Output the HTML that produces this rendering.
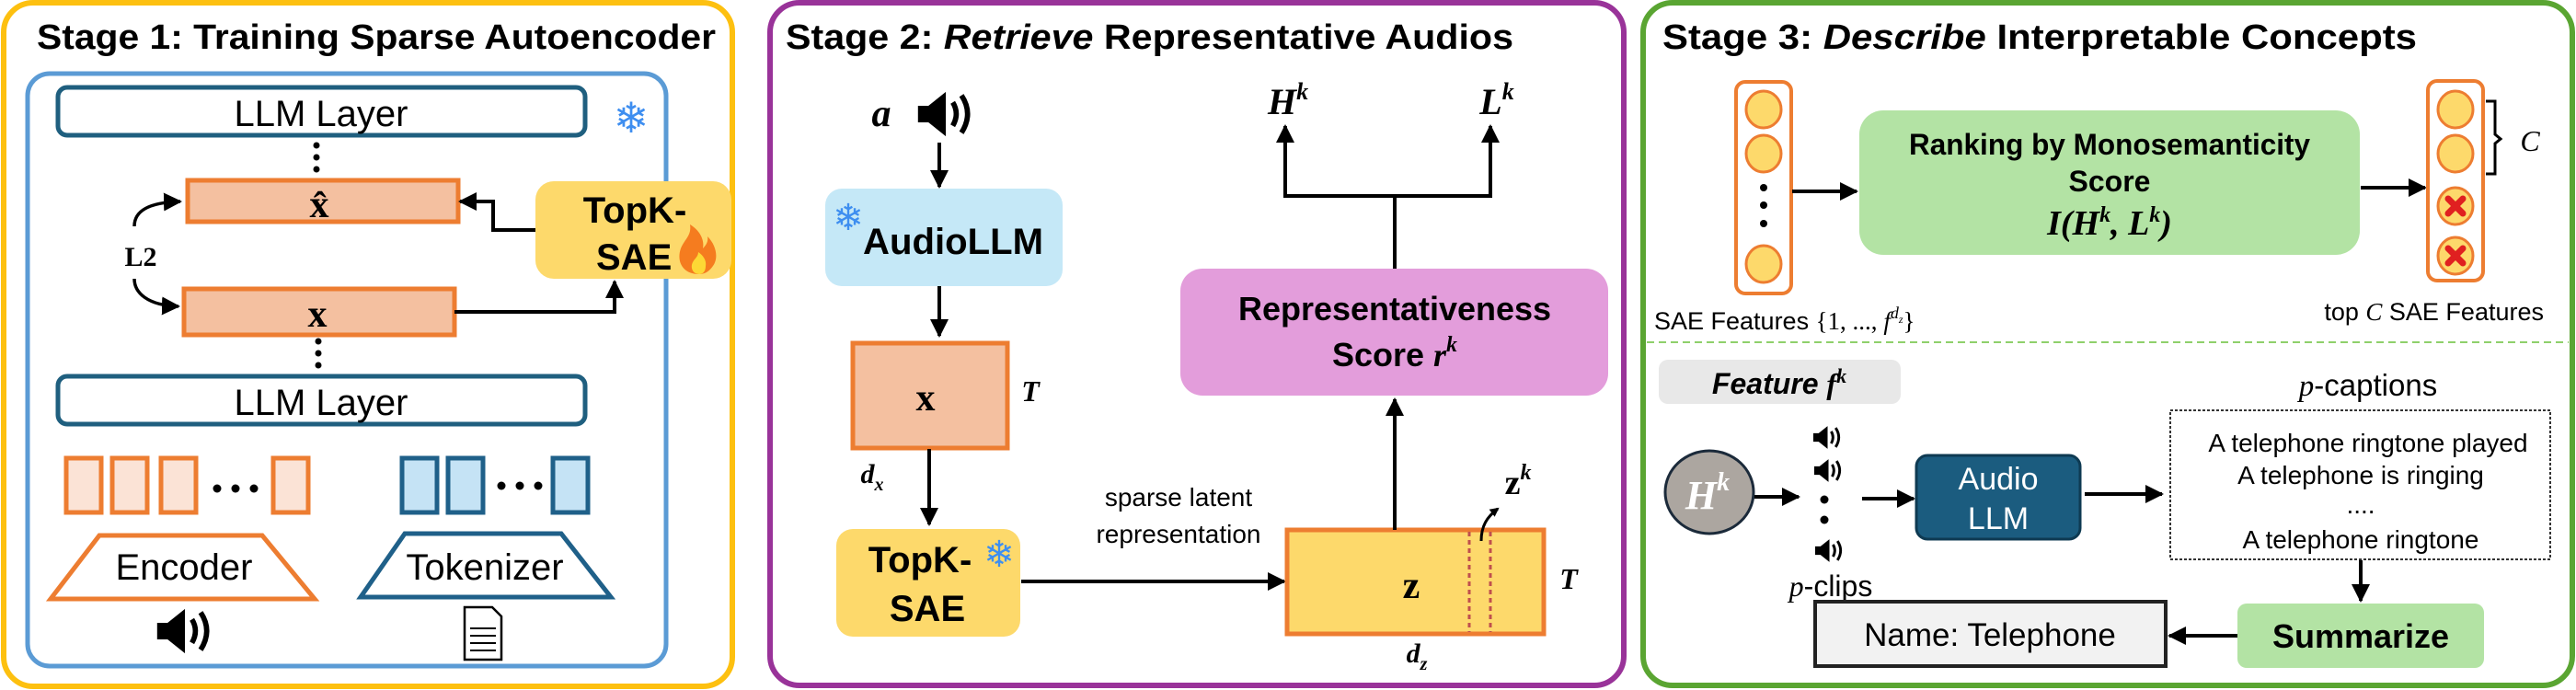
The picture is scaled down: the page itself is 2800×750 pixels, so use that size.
<!DOCTYPE html>
<html><head><meta charset="utf-8"><style>html,body{margin:0;padding:0;background:#fff}svg{display:block}</style></head>
<body>
<svg width="2800" height="750" viewBox="0 0 2800 750" xmlns="http://www.w3.org/2000/svg" font-family="Liberation Sans, sans-serif">
<defs>
<marker id="ar" markerWidth="10" markerHeight="10" refX="8" refY="5" orient="auto" markerUnits="userSpaceOnUse" viewBox="0 0 10 10">
<path d="M0,0 L10,5 L0,10 z" fill="#000"/></marker>
<marker id="ab" viewBox="0 0 10 10" refX="9" refY="5" markerWidth="20" markerHeight="20" orient="auto" markerUnits="userSpaceOnUse"><path d="M0,0 L10,5 L0,10 z" fill="#000"/></marker>
<symbol id="spk" viewBox="0 0 70 55"><path d="M2,18 h12 l20,-16 v51 l-20,-16 h-12 z" fill="#000"/><path d="M42,14 q8,13 0,27" stroke="#000" stroke-width="6" fill="none"/><path d="M52,6 q14,21 0,43" stroke="#000" stroke-width="6" fill="none"/></symbol>
</defs>

<!-- ============ PANEL 1 ============ -->
<rect x="4" y="3" width="792" height="743" rx="32" fill="#fff" stroke="#fdc010" stroke-width="6"/>
<text x="40" y="53" font-size="38" font-weight="bold" textLength="738" lengthAdjust="spacingAndGlyphs">Stage 1: Training Sparse Autoencoder</text>
<rect x="30" y="80" width="694" height="644" rx="24" fill="none" stroke="#5b9bd5" stroke-width="5"/>
<rect x="63" y="95" width="573" height="52" rx="10" fill="#fff" stroke="#1f5f7f" stroke-width="5"/>
<text x="349" y="137" font-size="40" text-anchor="middle">LLM Layer</text>
<text x="686" y="144" font-size="46" fill="#3e8ef0" text-anchor="middle">❄</text>
<g fill="#000"><circle cx="344" cy="158" r="3.5"/><circle cx="344" cy="171" r="3.5"/><circle cx="344" cy="184" r="3.5"/></g>
<rect x="204" y="196" width="294" height="45" fill="#f4c0a0" stroke="#ed7d31" stroke-width="5"/>
<text x="347" y="236" font-size="42" font-weight="bold" font-family="Liberation Serif, serif" text-anchor="middle">x̂</text>
<rect x="582" y="197" width="213" height="106" rx="20" fill="#fdd96b"/>
<text x="690" y="242" font-size="40" font-weight="bold" text-anchor="middle">TopK-</text>
<text x="648" y="293" font-size="40" font-weight="bold" text-anchor="start">SAE</text>
<path d="M760,298 c-18,0 -25,-14 -20,-28 c4,-10 12,-14 10,-26 c10,6 16,16 14,26 c4,-4 6,-8 5,-13 c10,10 12,24 6,32 c-4,6 -9,9 -15,9 z" fill="#f57c1f"/>
<path d="M760,298 c-7,0 -10,-7 -7,-13 c2,-4 6,-6 6,-11 c6,4 9,10 8,15 c0,6 -3,9 -7,9 z" fill="#fdd835"/>
<polyline points="582,250 536,250 536,219 500,219" fill="none" stroke="#000" stroke-width="4" marker-end="url(#ab)"/>
<rect x="200" y="314" width="294" height="50" fill="#f4c0a0" stroke="#ed7d31" stroke-width="5"/>
<text x="345" y="355" font-size="42" font-weight="bold" font-family="Liberation Serif, serif" text-anchor="middle">x</text>
<polyline points="494,339 668,339 668,306" fill="none" stroke="#000" stroke-width="4" marker-end="url(#ab)"/>
<path d="M146,246 C146,230 160,220 196,219" fill="none" stroke="#000" stroke-width="3.5" marker-end="url(#ab)"/>
<path d="M146,303 C146,318 160,332 194,333" fill="none" stroke="#000" stroke-width="3.5" marker-end="url(#ab)"/>
<text x="153" y="289" font-size="30" font-weight="bold" font-family="Liberation Serif, serif" text-anchor="middle">L2</text>
<g fill="#000"><circle cx="346" cy="371" r="3.5"/><circle cx="346" cy="384" r="3.5"/><circle cx="346" cy="397" r="3.5"/></g>
<rect x="63" y="409" width="573" height="52" rx="10" fill="#fff" stroke="#1f5f7f" stroke-width="5"/>
<text x="349" y="451" font-size="40" text-anchor="middle">LLM Layer</text>
<g fill="#fbe3d6" stroke="#ed7d31" stroke-width="5">
<rect x="72" y="498" width="38" height="59"/><rect x="122" y="498" width="38" height="59"/><rect x="175" y="498" width="38" height="59"/><rect x="297" y="498" width="38" height="59"/></g>
<g fill="#000"><circle cx="236" cy="531" r="4.5"/><circle cx="256" cy="531" r="4.5"/><circle cx="276" cy="531" r="4.5"/></g>
<g fill="#c5e3f5" stroke="#1f6089" stroke-width="5">
<rect x="437" y="498" width="38" height="59"/><rect x="487" y="498" width="38" height="59"/><rect x="601" y="498" width="38" height="59"/></g>
<g fill="#000"><circle cx="545" cy="528" r="4.5"/><circle cx="565" cy="528" r="4.5"/><circle cx="585" cy="528" r="4.5"/></g>
<polygon points="108,582 285,582 342,651 55,651" fill="#fff" stroke="#ed7d31" stroke-width="5"/>
<text x="200" y="630" font-size="40" text-anchor="middle">Encoder</text>
<polygon points="440,580 610,580 664,649 392,649" fill="#fff" stroke="#1f6089" stroke-width="5"/>
<text x="527" y="630" font-size="40" text-anchor="middle">Tokenizer</text>
<use href="#spk" x="168" y="660" width="68" height="52"/>
<path d="M505,660 h30 l10,10 v47 h-40 z" fill="#fff" stroke="#000" stroke-width="2.5"/>
<g stroke="#000" stroke-width="2"><line x1="511" y1="683" x2="539" y2="683"/><line x1="511" y1="691" x2="539" y2="691"/><line x1="511" y1="699" x2="539" y2="699"/><line x1="511" y1="707" x2="539" y2="707"/></g>

<!-- ============ PANEL 2 ============ -->
<rect x="837" y="3" width="928" height="742" rx="32" fill="#fff" stroke="#993399" stroke-width="6"/>
<text x="854" y="53" font-size="38" font-weight="bold" textLength="791" lengthAdjust="spacingAndGlyphs">Stage 2: <tspan font-style="italic">Retrieve</tspan> Representative Audios</text>
<text x="958" y="137" font-size="42" font-style="italic" font-weight="bold" font-family="Liberation Serif, serif" text-anchor="middle">a</text>
<use href="#spk" x="995" y="98" width="68" height="52"/>
<line x1="1021" y1="155" x2="1021" y2="203" stroke="#000" stroke-width="4" marker-end="url(#ab)"/>
<rect x="897" y="205" width="258" height="106" rx="18" fill="#c5e8f7"/>
<text x="1036" y="276" font-size="40" font-weight="bold" text-anchor="middle" textLength="196" lengthAdjust="spacingAndGlyphs">AudioLLM</text>
<text x="922" y="250" font-size="40" fill="#3e8ef0" text-anchor="middle">❄</text>
<line x1="1021" y1="311" x2="1021" y2="365" stroke="#000" stroke-width="4" marker-end="url(#ab)"/>
<rect x="927" y="373" width="168" height="114" fill="#f4c0a0" stroke="#ed7d31" stroke-width="5"/>
<text x="1006" y="446" font-size="42" font-weight="bold" font-family="Liberation Serif, serif" text-anchor="middle">x</text>
<text x="1120" y="436" font-size="32" font-weight="bold" font-style="italic" font-family="Liberation Serif, serif" text-anchor="middle">T</text>
<text x="948" y="525" font-size="30" font-weight="bold" font-style="italic" font-family="Liberation Serif, serif" text-anchor="middle">d<tspan font-size="20" dy="8">x</tspan></text>
<line x1="1010" y1="488" x2="1010" y2="570" stroke="#000" stroke-width="4" marker-end="url(#ab)"/>
<rect x="909" y="575" width="200" height="117" rx="18" fill="#fdd96b"/>
<text x="1000" y="622" font-size="40" font-weight="bold" text-anchor="middle">TopK-</text>
<text x="1008" y="675" font-size="40" font-weight="bold" text-anchor="middle">SAE</text>
<text x="1086" y="616" font-size="40" fill="#3e8ef0" text-anchor="middle">❄</text>
<text x="1281" y="550" font-size="28" text-anchor="middle">sparse latent</text>
<text x="1281" y="590" font-size="28" text-anchor="middle">representation</text>
<line x1="1110" y1="632" x2="1396" y2="632" stroke="#000" stroke-width="4" marker-end="url(#ab)"/>
<rect x="1399" y="576" width="279" height="113" fill="#fdd96b" stroke="#ed7d31" stroke-width="5"/>
<line x1="1597" y1="578" x2="1597" y2="687" stroke="#c0504d" stroke-width="3" stroke-dasharray="5,4"/>
<line x1="1620" y1="578" x2="1620" y2="687" stroke="#c0504d" stroke-width="3" stroke-dasharray="5,4"/>
<text x="1534" y="650" font-size="42" font-weight="bold" font-family="Liberation Serif, serif" text-anchor="middle">z</text>
<text x="1705" y="640" font-size="32" font-weight="bold" font-style="italic" font-family="Liberation Serif, serif" text-anchor="middle">T</text>
<text x="1540" y="720" font-size="30" font-weight="bold" font-style="italic" font-family="Liberation Serif, serif" text-anchor="middle">d<tspan font-size="20" dy="8">z</tspan></text>
<text x="1650" y="537" font-size="38" font-weight="bold" font-family="Liberation Serif, serif" text-anchor="middle">z<tspan font-size="24" dy="-16" font-style="italic">k</tspan></text>
<path d="M1610,588 C1610,572 1616,562 1628,553" fill="none" stroke="#000" stroke-width="3" marker-end="url(#ar)"/>
<line x1="1516" y1="576" x2="1516" y2="434" stroke="#000" stroke-width="4" marker-end="url(#ab)"/>
<rect x="1283" y="292" width="465" height="138" rx="24" fill="#e39ddb"/>
<text x="1516" y="348" font-size="36" font-weight="bold" text-anchor="middle" textLength="340" lengthAdjust="spacingAndGlyphs">Representativeness</text>
<text x="1516" y="398" font-size="36" font-weight="bold" text-anchor="middle">Score <tspan font-family="Liberation Serif, serif" font-style="italic">r<tspan font-size="24" dy="-16">k</tspan></tspan></text>
<polyline points="1516,292 1516,213" fill="none" stroke="#000" stroke-width="4"/>
<polyline points="1397,213 1620,213" fill="none" stroke="#000" stroke-width="4"/>
<line x1="1397" y1="215" x2="1397" y2="137" stroke="#000" stroke-width="4" marker-end="url(#ab)"/>
<line x1="1620" y1="215" x2="1620" y2="137" stroke="#000" stroke-width="4" marker-end="url(#ab)"/>
<text x="1400" y="124" font-size="40" font-weight="bold" font-style="italic" font-family="Liberation Serif, serif" text-anchor="middle">H<tspan font-size="26" dy="-16">k</tspan></text>
<text x="1627" y="124" font-size="40" font-weight="bold" font-style="italic" font-family="Liberation Serif, serif" text-anchor="middle">L<tspan font-size="26" dy="-16">k</tspan></text>

<!-- ============ PANEL 3 ============ -->
<rect x="1786" y="3" width="1010" height="742" rx="32" fill="#fff" stroke="#5aa532" stroke-width="6"/>
<text x="1807" y="53" font-size="38" font-weight="bold" textLength="820" lengthAdjust="spacingAndGlyphs">Stage 3: <tspan font-style="italic">Describe</tspan> Interpretable Concepts</text>
<rect x="1887" y="89" width="60" height="230" rx="10" fill="#fff" stroke="#ed7d31" stroke-width="4"/>
<g fill="#fdd96b" stroke="#ed7d31" stroke-width="3">
<ellipse cx="1917" cy="119" rx="19" ry="20"/><ellipse cx="1917" cy="167" rx="19" ry="20"/><ellipse cx="1917" cy="287" rx="19" ry="20"/></g>
<g fill="#000"><circle cx="1917" cy="204" r="4"/><circle cx="1917" cy="223" r="4"/><circle cx="1917" cy="243" r="4"/></g>
<line x1="1948" y1="208" x2="2018" y2="208" stroke="#000" stroke-width="4" marker-end="url(#ab)"/>
<rect x="2021" y="120" width="544" height="157" rx="26" fill="#b3e3a4"/>
<text x="2293" y="168" font-size="32" font-weight="bold" text-anchor="middle" textLength="436" lengthAdjust="spacingAndGlyphs">Ranking by Monosemanticity</text>
<text x="2293" y="208" font-size="32" font-weight="bold" text-anchor="middle">Score</text>
<text x="2293" y="255" font-size="38" font-weight="bold" font-style="italic" font-family="Liberation Serif, serif" text-anchor="middle">I(H<tspan font-size="24" dy="-14">k</tspan><tspan dy="14">, L</tspan><tspan font-size="24" dy="-14">k</tspan><tspan dy="14">)</tspan></text>
<line x1="2566" y1="204" x2="2636" y2="204" stroke="#000" stroke-width="4" marker-end="url(#ab)"/>
<rect x="2639" y="88" width="60" height="217" rx="10" fill="#fff" stroke="#ed7d31" stroke-width="4"/>
<g fill="#fdd96b" stroke="#ed7d31" stroke-width="3">
<ellipse cx="2669" cy="119" rx="19" ry="20"/><ellipse cx="2669" cy="167" rx="19" ry="20"/><ellipse cx="2669" cy="224" rx="19" ry="20"/><ellipse cx="2669" cy="278" rx="19" ry="20"/></g>
<g stroke="#e02020" stroke-width="7" stroke-linecap="round">
<line x1="2661" y1="216" x2="2677" y2="232"/><line x1="2677" y1="216" x2="2661" y2="232"/>
<line x1="2661" y1="270" x2="2677" y2="286"/><line x1="2677" y1="270" x2="2661" y2="286"/></g>
<path d="M2702,110 h10 v36 l6,5 l-6,5 v33 h-10" fill="none" stroke="#000" stroke-width="3"/>
<text x="2750" y="164" font-size="32" font-style="italic" font-family="Liberation Serif, serif" text-anchor="middle">C</text>
<text x="1798" y="358" font-size="27">SAE Features <tspan font-family="Liberation Serif, serif">{1, ..., <tspan font-style="italic">f</tspan><tspan font-size="18" dy="-12" font-style="italic">d</tspan><tspan font-size="12" dy="5" font-style="italic">z</tspan><tspan dy="7">}</tspan></tspan></text>
<text x="2765" y="348" font-size="27" text-anchor="end">top <tspan font-family="Liberation Serif, serif" font-style="italic">C</tspan> SAE Features</text>
<line x1="1790" y1="372" x2="2792" y2="372" stroke="#8fd06b" stroke-width="2" stroke-dasharray="8,5"/>
<rect x="1803" y="391" width="263" height="48" rx="10" fill="#e8e8e8"/>
<text x="1934" y="428" font-size="32" font-weight="bold" font-style="italic" text-anchor="middle">Feature <tspan font-family="Liberation Serif, serif">f<tspan font-size="22" dy="-12">k</tspan></tspan></text>
<text x="2574" y="430" font-size="33" text-anchor="middle"><tspan font-family="Liberation Serif, serif" font-style="italic">p</tspan>-captions</text>
<ellipse cx="1858" cy="535" rx="48" ry="45" fill="#aca6a0" stroke="#1b2a3a" stroke-width="3"/>
<text x="1856" y="553" font-size="44" font-weight="bold" font-style="italic" font-family="Liberation Serif, serif" fill="#fff" text-anchor="middle">H<tspan font-size="28" dy="-20">k</tspan></text>
<line x1="1907" y1="540" x2="1955" y2="540" stroke="#000" stroke-width="4" marker-end="url(#ab)"/>
<use href="#spk" x="1970" y="462" width="34" height="27"/>
<use href="#spk" x="1971" y="498" width="34" height="27"/>
<use href="#spk" x="1972" y="585" width="34" height="27"/>
<g fill="#000"><circle cx="1983" cy="543" r="4.5"/><circle cx="1983" cy="565" r="4.5"/></g>
<text x="1990" y="648" font-size="32" text-anchor="middle"><tspan font-family="Liberation Serif, serif" font-style="italic">p</tspan>-clips</text>
<line x1="2024" y1="542" x2="2080" y2="542" stroke="#000" stroke-width="4" marker-end="url(#ab)"/>
<rect x="2083" y="495" width="178" height="91" rx="12" fill="#1b5c7f" stroke="#0e3a52" stroke-width="3"/>
<text x="2172" y="532" font-size="34" fill="#fff" text-anchor="middle">Audio</text>
<text x="2172" y="575" font-size="34" fill="#fff" text-anchor="middle">LLM</text>
<line x1="2266" y1="537" x2="2350" y2="537" stroke="#000" stroke-width="4" marker-end="url(#ab)"/>
<rect x="2359" y="446" width="413" height="162" fill="#fff" stroke="#333" stroke-width="2" stroke-dasharray="3,2"/>
<g font-size="28" text-anchor="middle">
<text x="2574" y="491">A telephone ringtone played</text>
<text x="2566" y="526">A telephone is ringing</text>
<text x="2566" y="558">....</text>
<text x="2566" y="596">A telephone ringtone</text></g>
<line x1="2566" y1="609" x2="2566" y2="653" stroke="#000" stroke-width="4" marker-end="url(#ab)"/>
<rect x="2432" y="656" width="268" height="70" rx="10" fill="#b3e3a4"/>
<text x="2566" y="704" font-size="36" font-weight="bold" text-anchor="middle">Summarize</text>
<line x1="2432" y1="691" x2="2358" y2="691" stroke="#000" stroke-width="4" marker-end="url(#ab)"/>
<rect x="1973" y="654" width="381" height="70" fill="#f2f2f2" stroke="#222" stroke-width="4"/>
<text x="2163" y="702" font-size="35" text-anchor="middle">Name: Telephone</text>
</svg>
</body></html>
